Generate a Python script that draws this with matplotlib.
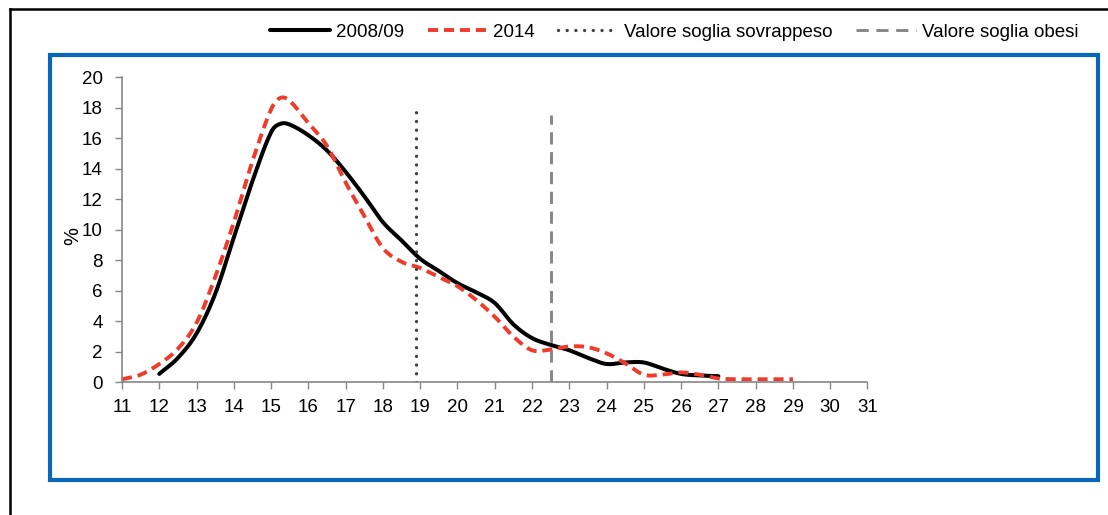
import numpy as np
import matplotlib
matplotlib.use("Agg")
import matplotlib.pyplot as plt
from matplotlib.lines import Line2D
from matplotlib.patches import Rectangle

plt.rcParams['font.family'] = ['Liberation Sans', 'DejaVu Sans']

# ---- data ----
x_2008 = [12, 12.5, 13, 13.5, 14, 14.5, 15, 15.25, 15.5, 16, 16.5, 17, 17.5, 18, 18.5, 19,
          19.5, 20, 20.5, 21, 21.5, 22, 22.5, 23, 23.5, 24, 24.5, 25, 25.5, 26, 26.5, 27]
y_2008 = [0.55, 1.6, 3.2, 5.8, 9.5, 13.2, 16.4, 16.95, 16.9, 16.2, 15.2, 13.8, 12.2, 10.5, 9.3, 8.1,
          7.3, 6.5, 5.9, 5.2, 3.8, 2.9, 2.45, 2.1, 1.6, 1.2, 1.3, 1.3, 0.9, 0.55, 0.45, 0.4]

x_2014 = [11, 11.5, 12, 12.5, 13, 13.5, 14, 14.5, 15, 15.25, 15.5, 16, 16.5, 17, 17.5, 18, 18.5,
          19, 19.5, 20, 20.5, 21, 21.5, 22, 22.5, 23, 23.5, 24, 24.5, 25, 25.5, 26, 26.5,
          27, 27.5, 28, 28.5, 29]
y_2014 = [0.2, 0.5, 1.2, 2.2, 3.9, 6.9, 10.5, 14.5, 17.9, 18.65, 18.45, 17.0, 15.5, 13.1, 10.9, 8.8, 7.9,
          7.5, 6.9, 6.3, 5.4, 4.3, 3.0, 2.1, 2.15, 2.35, 2.3, 1.9, 1.25, 0.5, 0.5, 0.65, 0.5,
          0.25, 0.2, 0.2, 0.2, 0.2]

soglia_sovrappeso_x = 18.9
soglia_sovrappeso_top = 18
soglia_obesi_x = 22.5
soglia_obesi_top = 17.5

labels = ["2008/09", "2014", "Valore soglia sovrappeso", "Valore soglia obesi"]
xticks = list(range(11, 32))
yticks = list(range(0, 21, 2))


def smooth(xs, ys, n=20):
    xs = np.asarray(xs, float)
    ys = np.asarray(ys, float)
    m = np.zeros_like(ys)
    m[1:-1] = (ys[2:] - ys[:-2]) / (xs[2:] - xs[:-2])
    m[0] = (ys[1] - ys[0]) / (xs[1] - xs[0])
    m[-1] = (ys[-1] - ys[-2]) / (xs[-1] - xs[-2])
    ox, oy = [], []
    for i in range(len(xs) - 1):
        h = xs[i + 1] - xs[i]
        t = np.linspace(0, 1, n, endpoint=False)
        h00 = 2 * t**3 - 3 * t**2 + 1
        h10 = t**3 - 2 * t**2 + t
        h01 = -2 * t**3 + 3 * t**2
        h11 = t**3 - t**2
        ox.extend(xs[i] + t * h)
        oy.extend(h00 * ys[i] + h10 * h * m[i] + h01 * ys[i + 1] + h11 * h * m[i + 1])
    ox.append(xs[-1])
    oy.append(ys[-1])
    return np.array(ox), np.array(oy)


W, H = 1108, 515
fig = plt.figure(figsize=(W / 100, H / 100), dpi=100)

# outer black border (left + top)
fig.add_artist(Line2D([10 / W, 10 / W], [0, 1 - 9 / H], color='black', lw=1.8,
                      transform=fig.transFigure))
fig.add_artist(Line2D([10 / W, 1], [1 - 9 / H, 1 - 9 / H], color='black', lw=1.8,
                      transform=fig.transFigure))
# blue box
fig.add_artist(Rectangle((50 / W, 1 - 480 / H), 1048 / W, 425 / H, fill=False,
                         edgecolor='#0a66b8', lw=3.0, transform=fig.transFigure))

ax = fig.add_axes([122 / W, 1 - 382.3 / H, 745.5 / W, 305 / H])

gx, gy = smooth(x_2008, y_2008)
rx, ry = smooth(x_2014, y_2014)
l1, = ax.plot(gx, gy, color='black', lw=2.9, solid_capstyle='round')
l2, = ax.plot(rx, ry, color='#ef3b2c', lw=2.8, dashes=(2.6, 1.5))
l3, = ax.plot([soglia_sovrappeso_x, soglia_sovrappeso_x], [0, soglia_sovrappeso_top],
              color='#404040', lw=2.4, linestyle=(0, (0.01, 2.6)), dash_capstyle='round')
l4, = ax.plot([soglia_obesi_x, soglia_obesi_x], [0, soglia_obesi_top],
              color='#868686', lw=2.1, dashes=(4.2, 2.6))

ax.set_xlim(11, 31)
ax.set_ylim(0, 20)
ax.set_xticks(xticks)
ax.set_yticks(yticks)
ax.set_xticklabels([str(v) for v in xticks])
ax.set_yticklabels([str(v) for v in yticks])
for s in ['top', 'right']:
    ax.spines[s].set_visible(False)
for s in ['left', 'bottom']:
    ax.spines[s].set_color('#868686')
    ax.spines[s].set_linewidth(1.2)
ax.tick_params(axis='both', direction='out', length=5, width=1, color='#868686',
               labelsize=13.5, labelcolor='black')
ax.tick_params(axis='y', pad=9)
ax.tick_params(axis='x', pad=7)
ax.set_ylabel('%', fontsize=14.5, labelpad=2)
ax.yaxis.set_label_coords(-0.053, 0.48)
ax.patch.set_alpha(0)

fig.legend([l1, l2, l3, l4], labels, loc='center right',
           bbox_to_anchor=(1078 / W, 1 - 32 / H), ncol=4, frameon=False, fontsize=13.5,
           handlelength=3.2, handletextpad=0.3, columnspacing=1.25, borderpad=0,
           borderaxespad=0)

fig.savefig('out.png', dpi=100)
